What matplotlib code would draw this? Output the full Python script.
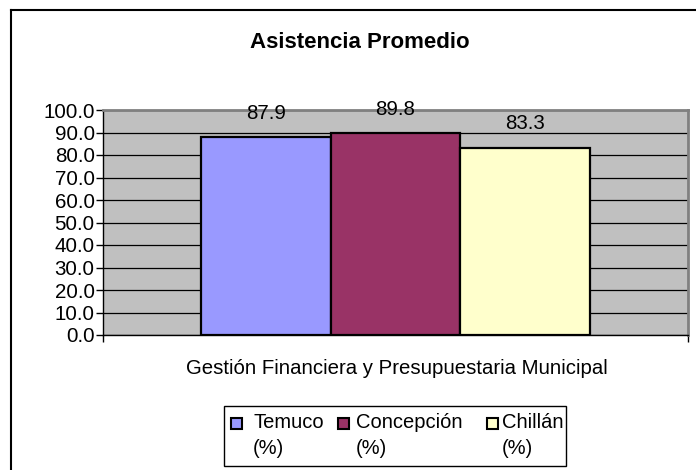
import matplotlib
matplotlib.use("Agg")
import matplotlib.pyplot as plt
from matplotlib.lines import Line2D
from matplotlib.patches import Rectangle

plt.rcParams['font.family'] = ['Liberation Sans', 'DejaVu Sans']

title = "Asistencia Promedio"
category = "Gestión Financiera y Presupuestaria Municipal"
series = ["Temuco", "Concepción", "Chillán"]
unit = "(%)"
values = [87.9, 89.8, 83.3]
colors = ["#9999FF", "#993366", "#FFFFCC"]
yticks = [0, 10, 20, 30, 40, 50, 60, 70, 80, 90, 100]

W, H = 696, 470
fig = plt.figure(figsize=(W / 100, H / 100), dpi=100)

def fx(px):
    return px / W

def fy(py):
    return 1 - py / H

# outer chart border (only left and top visible)
fig.add_artist(Line2D([fx(11), fx(11)], [0, fy(10)], transform=fig.transFigure, color='black', lw=1.5))
fig.add_artist(Line2D([fx(11), 1], [fy(10), fy(10)], transform=fig.transFigure, color='black', lw=1.5))

ax = fig.add_axes([fx(103), fy(335), (688 - 103) / W, (335 - 110) / H])
ax.set_facecolor('#C0C0C0')
ax.set_xlim(-0.5, 0.5)
ax.set_ylim(0, 100)

bw = 0.222
offsets = [-bw, 0, bw]
for off, v, c in zip(offsets, values, colors):
    ax.bar(off, v, width=bw, color=c, edgecolor='black', linewidth=1.6, zorder=3)
    ax.annotate(f"{v:.1f}", (off, v), xytext=(0, 17), textcoords='offset points',
                ha='center', va='center', fontsize=14.8, zorder=4, annotation_clip=False)

ax.set_yticks(yticks)
ax.set_yticklabels([f"{t:.1f}" for t in yticks], fontsize=14.8)
ax.yaxis.grid(True, color='black', linewidth=0.9, zorder=0)
ax.set_axisbelow(True)
ax.tick_params(axis='y', direction='out', length=5, width=1, pad=1)
ax.set_xticks([-0.5, 0.5])
ax.set_xticklabels(['', ''])
ax.tick_params(axis='x', direction='out', length=5, width=1)

for s in ['left', 'bottom']:
    ax.spines[s].set_color('black')
    ax.spines[s].set_linewidth(1.0)
for s in ['top', 'right']:
    ax.spines[s].set_color('#808080')
    ax.spines[s].set_linewidth(2.0)

fig.text(fx(360), fy(42), title, ha='center', va='center', fontsize=16, fontweight='bold')
fig.text(fx(397), fy(368), category, ha='center', va='center', fontsize=14.7)

# legend (drawn as figure artists)
fig.add_artist(Rectangle((fx(224), fy(466)), (566 - 224) / W, (466 - 406) / H,
                         transform=fig.transFigure, facecolor='white', edgecolor='black', lw=1.0))
marker_x = [231, 338, 487]
text_x = [253, 356, 502]
for mx, tx, c, name in zip(marker_x, text_x, colors, series):
    fig.add_artist(Rectangle((fx(mx), fy(429)), 11 / W, 11 / H, transform=fig.transFigure,
                             facecolor=c, edgecolor='black', lw=1.5))
    fig.text(fx(tx), fy(423), name, ha='left', va='center', fontsize=14.5)
    fig.text(fx(tx), fy(448), unit, ha='left', va='center', fontsize=14.5)

fig.savefig('out.png', dpi=100)
